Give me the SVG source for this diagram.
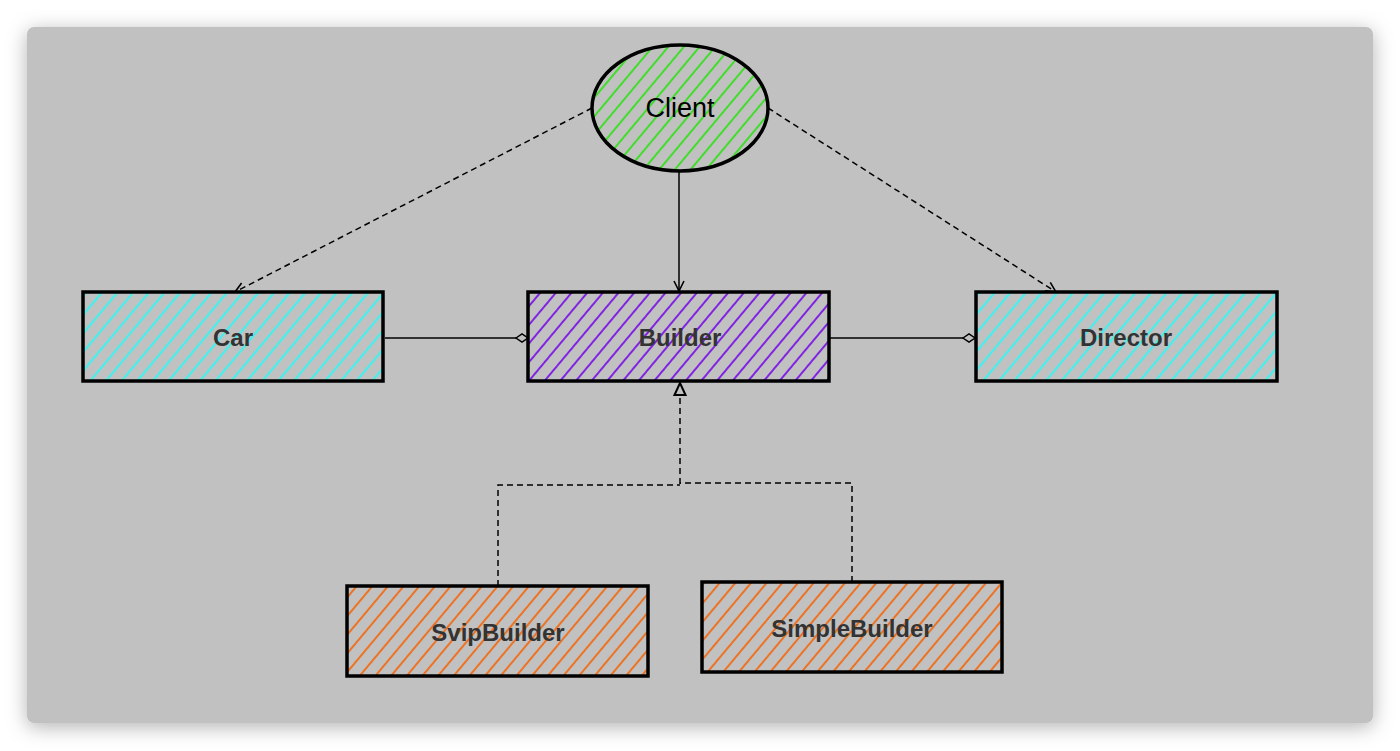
<svg xmlns="http://www.w3.org/2000/svg" width="1400" height="751" viewBox="0 0 1400 751">
<defs>
<filter id="shadow" x="-10%" y="-10%" width="120%" height="125%">
<feDropShadow dx="0" dy="4" stdDeviation="10" flood-color="#000" flood-opacity="0.3"/>
</filter>
<pattern id="hGreen" width="12" height="12" patternUnits="userSpaceOnUse" patternTransform="rotate(40)"><line x1="2" y1="0" x2="2" y2="12" stroke="#33e01a" stroke-width="1.8"/></pattern>
<pattern id="hCyan" width="12" height="12" patternUnits="userSpaceOnUse" patternTransform="rotate(40)"><line x1="2" y1="0" x2="2" y2="12" stroke="#45efec" stroke-width="2.2"/></pattern>
<pattern id="hPurple" width="12" height="12" patternUnits="userSpaceOnUse" patternTransform="rotate(40)"><line x1="2" y1="0" x2="2" y2="12" stroke="#7a12e6" stroke-width="1.8"/></pattern>
<pattern id="hOrange" width="12" height="12" patternUnits="userSpaceOnUse" patternTransform="rotate(40)"><line x1="2" y1="0" x2="2" y2="12" stroke="#f26a12" stroke-width="1.8"/></pattern>
<marker id="open" viewBox="0 0 12 12" refX="11" refY="6" markerWidth="12" markerHeight="12" markerUnits="userSpaceOnUse" orient="auto"><path d="M1,1 L11,6 L1,11" fill="none" stroke="#000" stroke-width="1.6"/></marker>
<marker id="tri" viewBox="0 0 14 14" refX="13" refY="7" markerWidth="14" markerHeight="14" markerUnits="userSpaceOnUse" orient="auto"><path d="M1,1.5 L13,7 L1,12.5 Z" fill="#c0c0c0" stroke="#000" stroke-width="2"/></marker>
<marker id="diamond" viewBox="0 0 14 10" refX="13" refY="5" markerWidth="14" markerHeight="10" markerUnits="userSpaceOnUse" orient="auto"><path d="M1,5 L7,1 L13,5 L7,9 Z" fill="#c0c0c0" stroke="#000" stroke-width="1.5"/></marker>
</defs>
<style>
.box{stroke:#000;stroke-width:3.5;}
.lbl{font-family:"Liberation Sans",Arial,sans-serif;font-weight:bold;font-size:24px;fill:#333;text-anchor:middle;dominant-baseline:central;}
.dash{fill:none;stroke:#000;stroke-width:1.5;stroke-dasharray:6 4;}
.solid{fill:none;stroke:#000;stroke-width:1.5;}
</style>
<rect width="1400" height="751" fill="#fff"/>
<rect x="27" y="27" width="1346" height="696" rx="7" fill="#c1c1c1" filter="url(#shadow)"/>

<g id="connectors">
<line class="dash" x1="592" y1="108" x2="235" y2="292" marker-end="url(#open)"/>
<line class="dash" x1="768" y1="108" x2="1056" y2="292" marker-end="url(#open)"/>
<line class="solid" x1="679" y1="172" x2="679" y2="291" marker-end="url(#open)"/>
<line class="solid" x1="385" y1="338" x2="528" y2="338" marker-end="url(#diamond)"/>
<line class="solid" x1="830" y1="338" x2="975" y2="338" marker-end="url(#diamond)"/>
<path class="dash" stroke-width="2" d="M498,586 L498,485 L680,485"/>
<path class="dash" stroke-width="2" d="M852,582 L852,483 L680,483"/>
<line class="dash" stroke-width="2" x1="680" y1="484" x2="680" y2="383" marker-end="url(#tri)"/>
</g>

<g id="client">
<ellipse cx="680" cy="108" rx="88" ry="63" fill="#c1c1c1"/>
<ellipse cx="680" cy="108" rx="88" ry="63" fill="url(#hGreen)" stroke="#000" stroke-width="3.5"/>
<text x="680" y="108" font-family="'Liberation Sans',Arial,sans-serif" font-size="27" fill="#000" text-anchor="middle" dominant-baseline="central">Client</text>
</g>

<g id="car">
<rect class="box" x="83" y="292" width="300" height="89" fill="url(#hCyan)"/>
<text class="lbl" x="233" y="337">Car</text>
</g>

<g id="builder">
<rect class="box" x="528" y="292" width="301" height="89" fill="url(#hPurple)"/>
<text class="lbl" x="680" y="337">Builder</text>
</g>

<g id="director">
<rect class="box" x="976" y="292" width="301" height="89" fill="url(#hCyan)"/>
<text class="lbl" x="1126" y="337">Director</text>
</g>

<g id="svipbuilder">
<rect class="box" x="347" y="586" width="301" height="90" fill="url(#hOrange)"/>
<text class="lbl" x="498" y="632">SvipBuilder</text>
</g>

<g id="simplebuilder">
<rect class="box" x="702" y="582" width="300" height="90" fill="url(#hOrange)"/>
<text class="lbl" x="852" y="628">SimpleBuilder</text>
</g>
</svg>
